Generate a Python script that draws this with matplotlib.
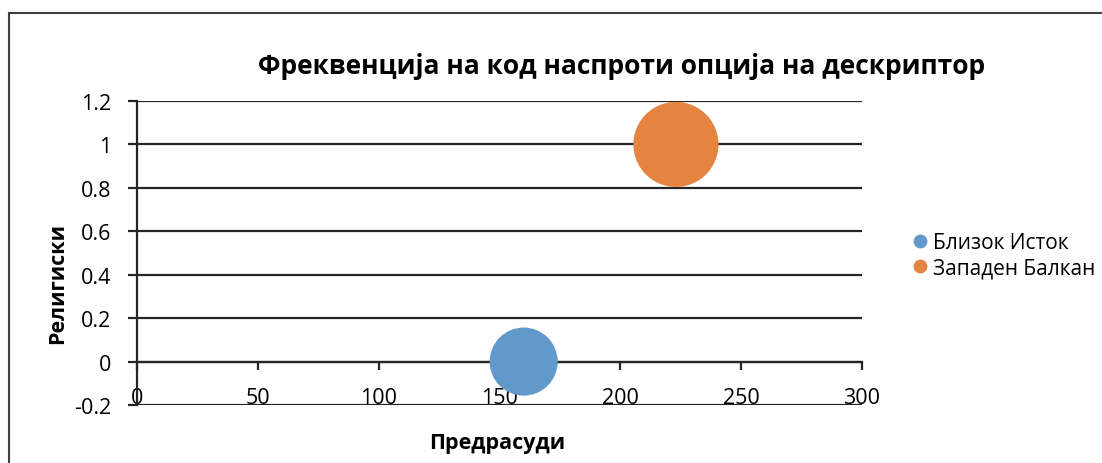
import matplotlib
matplotlib.use("Agg")
import matplotlib.pyplot as plt
from matplotlib.patches import Rectangle
from matplotlib.lines import Line2D

plt.rcParams['font.family'] = ['Open Sans', 'DejaVu Sans']

# Bubble series: x = Предрасуди, y = Религиски, size = bubble size
series_names = ["Близок Исток", "Западен Балкан"]
x_values = [160, 223]
y_values = [0, 1]
bubble_sizes = [16, 25]
colors = ["#6199cb", "#e58340"]

x_ticks = [0, 50, 100, 150, 200, 250, 300]
y_ticks = [-0.2, 0, 0.2, 0.4, 0.6, 0.8, 1, 1.2]
y_tick_labels = ["-0.2", "0", "0.2", "0.4", "0.6", "0.8", "1", "1.2"]

W, H = 1102, 464
fig = plt.figure(figsize=(W / 100, H / 100), dpi=100)

# outer chart frame
fig.add_artist(Rectangle((9 / W, -0.1), 1.2, (H - 14) / H + 0.1,
                         transform=fig.transFigure, fill=False,
                         edgecolor="#404040", linewidth=1.5))

ax = fig.add_axes([137 / W, 1 - 406 / H, (862 - 137) / W, (406 - 102) / H])
ax.set_xlim(0, 300)
ax.set_ylim(-0.2, 1.2)

line_col = "#252525"
for yv in y_ticks:
    ax.axhline(yv, color=line_col, linewidth=1.6, zorder=1)

for s in ["top", "right"]:
    ax.spines[s].set_visible(False)
ax.spines["left"].set_color(line_col)
ax.spines["left"].set_linewidth(1.6)
ax.spines["bottom"].set_position(("data", 0))
ax.spines["bottom"].set_color(line_col)
ax.spines["bottom"].set_linewidth(1.6)

ax.set_xticks(x_ticks)
ax.set_xticklabels([str(v) for v in x_ticks])
ax.set_yticks(y_ticks)
ax.set_yticklabels(y_tick_labels)
ax.tick_params(axis="x", direction="out", length=6, width=1.6, color=line_col,
               labelsize=15.5, pad=12.5)
ax.tick_params(axis="y", direction="out", length=6.5, width=1.6, color=line_col,
               labelsize=15.5, pad=12)

k = 150.0
ax.scatter(x_values, y_values, s=[b * k for b in bubble_sizes], c=colors,
           zorder=3, linewidths=0, clip_on=False)

fig.text(622 / W, 1 - 67 / H, "Фреквенција на код наспроти опција на дескриптор",
         ha="center", va="center", fontsize=19, fontweight="bold")
fig.text(497 / W, 1 - 444 / H, "Предрасуди", ha="center", va="center",
         fontsize=15.5, fontweight="bold")
fig.text(58 / W, 1 - 283 / H, "Религиски", ha="center", va="center",
         rotation=90, fontsize=15.5, fontweight="bold")

handles = [Line2D([], [], linestyle="none", marker="o", markersize=10,
                  markerfacecolor=c, markeredgewidth=0) for c in colors]
fig.legend(handles, series_names, loc="center left",
           bbox_to_anchor=(914 / W, 1 - 256 / H), frameon=False, fontsize=15,
           handlelength=0.6, handletextpad=0.3, labelspacing=0.2,
           borderaxespad=0, borderpad=0)

fig.savefig("out.png", dpi=100)
